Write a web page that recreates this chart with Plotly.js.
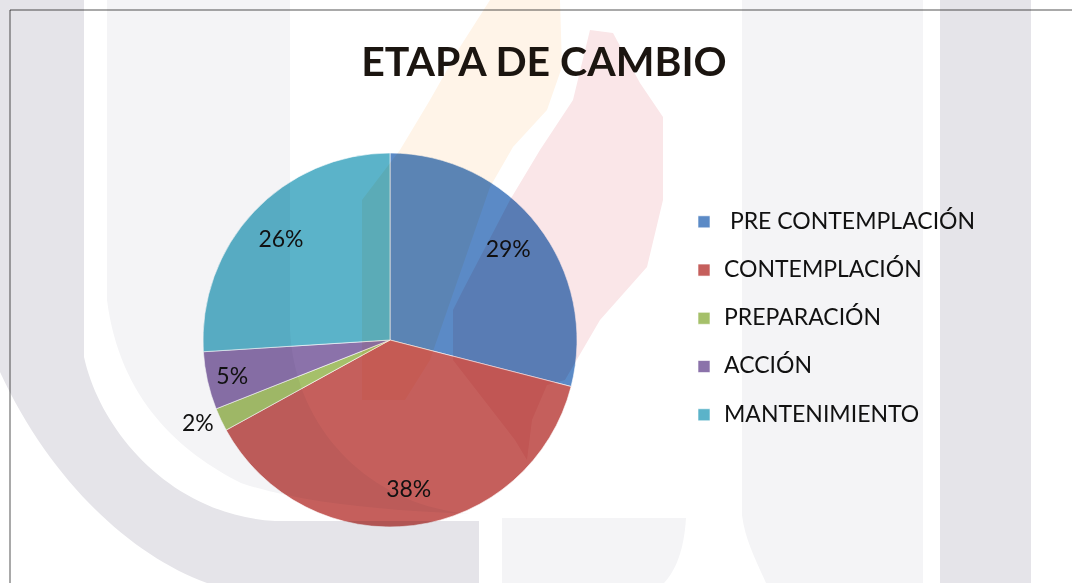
<!DOCTYPE html>
<html>
<head>
<meta charset="utf-8">
<script src="https://cdn.plot.ly/plotly-3.0.1.min.js"></script>
<style>
  html, body { margin: 0; padding: 0; background: #ffffff; }
  #chart { width: 1072px; height: 583px; }
  .layer-above .shapelayer path { mix-blend-mode: multiply; }
</style>
</head>
<body>
<div id="chart"></div>
<script>
// ---- data ----
const chartTitle = 'ETAPA DE CAMBIO';
const categories = ['\u00a0PRE CONTEMPLACIÓN', 'CONTEMPLACIÓN', 'PREPARACIÓN', 'ACCIÓN', 'MANTENIMIENTO'];
const values = [29, 38, 2, 5, 26];
const colors = ['#5B8AC6', '#C55F5C', '#A5C06A', '#8B72AA', '#5BB3C9'];
const labelPositions = ['inside', 'inside', 'outside', 'inside', 'inside'];

// ---- layout helpers (figure pixels -> paper fractions) ----
const W = 1072, H = 583;
const px = x => (x / W).toFixed(5);
const py = y => (1 - y / H).toFixed(5);
function pathFrom(cmds) {
  return cmds.map(c => {
    if (c === 'Z') return 'Z';
    const op = c[0];
    const pts = [];
    for (let i = 1; i < c.length; i += 2) pts.push(px(c[i]) + ',' + py(c[i + 1]));
    return op + pts.join(' ');
  }).join(' ');
}

// background watermark decoration (multiplied over the chart)
const darkGray = 'rgb(229,228,233)';
const lightGray = 'rgb(244,244,246)';
const peach = 'rgb(255,244,232)';
const pink = 'rgb(250,230,232)';
const deco = [
  { fill: darkGray, d: [['M',0,0],['L',84,0],['L',84,357],['C',100,430,170,515,275,521],['L',479,521],['L',479,583],['L',207,583],['C',130,555,50,480,0,372],'Z'] },
  { fill: lightGray, d: [['M',107,0],['L',290,0],['L',290,330],['C',295,430,370,505,470,514],['C',380,510,300,503,241,483],['C',180,452,120,400,107,300],'Z'] },
  { fill: lightGray, d: [['M',502,518],['L',686,518],['C',684,550,676,570,664,583],['L',502,583],'Z'] },
  { fill: lightGray, d: [['M',742,0],['L',923,0],['L',923,583],['L',766,583],['C',756,560,745,540,742,515],'Z'] },
  { fill: darkGray, d: [['M',940,0],['L',1031,0],['L',1031,583],['L',940,583],'Z'] },
  { fill: peach, d: [['M',490,0],['L',560,0],['L',562,67],['L',547,110],['L',513,147],['L',490,187],['L',430,360],['L',405,400],['L',362,400],['L',362,200],['L',400,150],['L',430,100],['L',460,47],'Z'] },
  { fill: pink, d: [['M',590,30],['L',613,33],['L',640,83],['L',663,117],['L',663,200],['L',647,267],['L',600,320],['L',565,380],['L',547,385],['L',532,420],['L',527,460],['L',515,440],['L',453,360],['L',453,310],['L',463,290],['L',510,200],['L',540,150],['L',573,100],'Z'] }
];
const shapes = deco.map(s => ({
  type: 'path', xref: 'paper', yref: 'paper', layer: 'above',
  path: pathFrom(s.d), fillcolor: s.fill, line: { width: 0 }
}));
// frame lines
shapes.push({ type: 'line', xref: 'paper', yref: 'paper', layer: 'above',
  x0: 10 / W, x1: 1, y0: 1 - 10 / H, y1: 1 - 10 / H, line: { color: '#8c8c8c', width: 1.5 } });
shapes.push({ type: 'line', xref: 'paper', yref: 'paper', layer: 'above',
  x0: 10 / W, x1: 10 / W, y0: 1 - 10 / H, y1: 0, line: { color: '#8c8c8c', width: 1.5 } });

// pie placement
const cx = 390, cy = 340, R = 187;
const domain = { x: [(cx - R) / W, (cx + R) / W], y: [1 - (cy + R) / H, 1 - (cy - R) / H] };

const legendLabels = categories.map(c => '<span style="font-size:23px">' + c + '</span><br> ');

const pieTrace = {
  type: 'pie', labels: legendLabels, values: values,
  marker: { colors: colors, line: { color: 'rgba(255,255,255,0.75)', width: 0.8 } },
  sort: false, direction: 'clockwise', rotation: 0,
  textinfo: 'none', domain: domain, showlegend: true,
  hoverinfo: 'percent', name: ''
};
const labelTrace = {
  type: 'pie', labels: legendLabels, values: values, hole: 0.6,
  marker: { colors: values.map(() => 'rgba(0,0,0,0)'), line: { width: 0 } },
  sort: false, direction: 'clockwise', rotation: 0,
  textinfo: 'percent', textposition: labelPositions,
  insidetextorientation: 'horizontal',
  textfont: { family: 'Lato', size: 23, color: '#111111' },
  domain: domain, showlegend: false, hoverinfo: 'skip'
};

const layout = {
  width: W, height: H,
  margin: { l: 0, r: 0, t: 0, b: 0 },
  paper_bgcolor: '#ffffff',
  showlegend: true,
  title: {
    text: chartTitle, x: 544 / W, xanchor: 'center', y: 1 - 62 / H, yanchor: 'middle',
    font: { family: 'Lato', size: 41, weight: 'bold', color: '#1b1510' }
  },
  legend: {
    x: 684 / W, xanchor: 'left', y: 1 - 204 / H, yanchor: 'top',
    valign: 'top', bgcolor: 'rgba(0,0,0,0)',
    font: { family: 'Lato', size: 17.4, color: '#111111' }
  },
  uniformtext: { mode: 'show', minsize: 23 },
  shapes: shapes
};

Plotly.newPlot('chart', [pieTrace, labelTrace], layout, { displayModeBar: false, staticPlot: true });
</script>
</body>
</html>
